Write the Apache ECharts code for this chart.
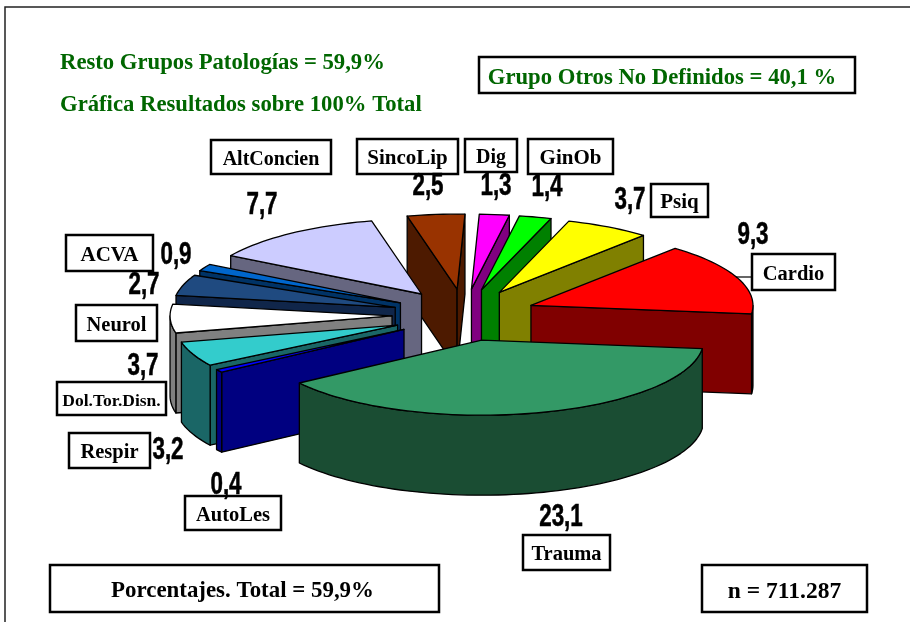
<!DOCTYPE html>
<html>
<head>
<meta charset="utf-8">
<style>
  html, body { margin: 0; padding: 0; background: #fff; }
  #main { width: 910px; height: 622px; }
</style>
</head>
<body>
<div id="main"></div>
<script src="https://cdn.jsdelivr.net/npm/echarts@6/dist/echarts.min.js"></script>
<script>
// datos, en sentido horario desde SincoLip
var categories = ['SincoLip', 'Dig', 'GinOb', 'Psiq', 'Cardio', 'Trauma', 'AutoLes', 'Respir', 'Dol.Tor.Disn.', 'Neurol', 'ACVA', 'AltConcien'];
var values = [2.5, 1.3, 1.4, 3.7, 9.3, 23.1, 0.4, 3.2, 3.7, 2.7, 0.9, 7.7];
var topColors = ['#993300', '#ff00ff', '#00ff00', '#ffff00', '#ff0000', '#339966', '#0000ff', '#33cccc', '#ffffff', '#1f4a80', '#0066cc', '#ccccff'];
var wallColors = ['#4d1a00', '#800080', '#008000', '#808000', '#800000', '#1a4d33', '#000080', '#1a6666', '#808080', '#10264a', '#003366', '#666680'];

// cajas de etiqueta: x, y, ancho, alto
var labelBoxes = [[357, 139, 101, 35], [465, 139, 52, 33], [528, 139, 85, 35], [651, 184, 57, 33], [752, 254, 83, 36], [523, 535, 87, 35], [185, 496, 96, 34], [69, 433, 81, 35], [57, 382, 109, 33], [76, 305, 81, 36], [66, 235, 87, 36], [211, 140, 120, 34]];
var labelFontSizes = [21, 20, 21, 21, 20.5, 20.5, 20.5, 20.5, 17.5, 20.5, 21, 20];
// posición del valor (centro)
var valuePos = [[428, 187], [496, 187], [547, 188], [630, 201], [753, 236], [561, 518], [226, 486], [168, 451], [143, 367], [144, 286], [176, 256], [262, 206]];

var CX = 464, CY = 315;   // centro de la tarta
var RX = 222, RY = 75;    // elipse de cada porción
var EX = 72, EY = 26;     // desplazamiento de las porciones
var DEPTH = 80;
var START = -103;         // grados, sentido horario

var total = values.reduce(function (a, b) { return a + b; }, 0);
var rad = Math.PI / 180;

// ángulos de cada porción a partir de los valores
var slices = [];
var acc = START;
values.forEach(function (v, i) {
    var span = v / total * 360;
    slices.push({ index: i, from: acc, to: acc + span, mid: acc + span / 2 });
    acc += span;
});
// de atrás hacia delante
var order = slices.slice().sort(function (a, b) {
    return Math.sin(a.mid * rad) - Math.sin(b.mid * rad);
});

function renderSlice(params, api) {
    var s = slices[api.value(0)];
    var ax = CX + EX * Math.cos(s.mid * rad);
    var ay = CY + EY * Math.sin(s.mid * rad);
    function pt(deg) {
        return [ax + RX * Math.cos(deg * rad), ay + RY * Math.sin(deg * rad)];
    }
    function arc(a, b) {
        var pts = [];
        var n = Math.max(2, Math.ceil((b - a) / 2));
        for (var k = 0; k <= n; k++) pts.push(pt(a + (b - a) * k / n));
        return pts;
    }
    function face(points, color) {
        return {
            type: 'polygon',
            shape: { points: points },
            style: { fill: color, stroke: '#000', lineWidth: 1.3, lineJoin: 'round' }
        };
    }
    function wall(p, color) {
        return face([[ax, ay], p, [p[0], p[1] + DEPTH], [ax, ay + DEPTH]], color);
    }
    var wallColor = wallColors[s.index];
    var children = [];
    if (Math.cos(s.from * rad) < 0) children.push(wall(pt(s.from), wallColor));
    if (Math.cos(s.to * rad) > 0) children.push(wall(pt(s.to), wallColor));
    var a = Math.max(s.from, 0), b = Math.min(s.to, 180);
    if (b > a) {
        var edge = arc(a, b);
        var low = edge.map(function (p) { return [p[0], p[1] + DEPTH]; }).reverse();
        children.push(face(edge.concat(low), wallColor));
    }
    children.push(face([[ax, ay]].concat(arc(s.from, s.to)), topColors[s.index]));
    return { type: 'group', children: children };
}

function box(x, y, w, h, text, size, color, dy, dx) {
    return [{
        type: 'rect', z: 10,
        shape: { x: x, y: y, width: w, height: h },
        style: { fill: '#fff', stroke: '#000', lineWidth: 2.5 }
    }, {
        type: 'text', z: 11, x: x + w / 2 + (dx || 0), y: y + h / 2 + (dy || 2.5),
        style: { text: text, fill: color || '#000', font: 'bold ' + size + 'px "Liberation Serif"', textAlign: 'center', textVerticalAlign: 'middle' }
    }];
}

var graphics = [
    { type: 'polyline', z: 1, shape: { points: [[5, 622], [5, 7], [910, 7]] }, style: { fill: 'none', stroke: '#222', lineWidth: 1.5 } },
    { type: 'line', z: 9, shape: { x1: 736, y1: 277, x2: 752, y2: 277 }, style: { stroke: '#000', lineWidth: 1.2 } },
    { type: 'text', x: 60, y: 63, style: { text: 'Resto Grupos Patologías = 59,9%', fill: '#006600', font: 'bold 22.7px "Liberation Serif"', textVerticalAlign: 'middle' } },
    { type: 'text', x: 60, y: 105, style: { text: 'Gráfica Resultados sobre 100% Total', fill: '#006600', font: 'bold 22.7px "Liberation Serif"', textVerticalAlign: 'middle' } }
];
graphics = graphics.concat(box(479, 57, 376, 36, 'Grupo Otros No Definidos = 40,1 %', 22.7, '#006600', 3, -5));
graphics = graphics.concat(box(50, 565, 389, 47, 'Porcentajes. Total = 59,9%', 22.9, '#000', 3, -2));
graphics = graphics.concat(box(702, 565, 165, 47, 'n = 711.287', 23.5, '#000', 3));

categories.forEach(function (name, i) {
    var b = labelBoxes[i];
    graphics = graphics.concat(box(b[0], b[1], b[2], b[3], name, labelFontSizes[i]));
    graphics.push({
        type: 'text', z: 12, x: valuePos[i][0], y: valuePos[i][1],
        scaleX: 0.8,
        scaleY: 1.1,
        style: {
            text: String(values[i]).replace('.', ','),
            fill: '#000',
            stroke: '#000',
            lineWidth: 0.5,
            font: 'bold 28px "Liberation Sans"',
            textAlign: 'center',
            textVerticalAlign: 'middle'
        }
    });
});

var myChart = echarts.init(document.getElementById('main'));
myChart.setOption({
    animation: false,
    backgroundColor: '#fff',
    graphic: { elements: graphics },
    series: [{
        type: 'custom',
        coordinateSystem: 'none',
        renderItem: renderSlice,
        data: order.map(function (s) { return [s.index, values[s.index]]; })
    }]
});
</script>
</body>
</html>
